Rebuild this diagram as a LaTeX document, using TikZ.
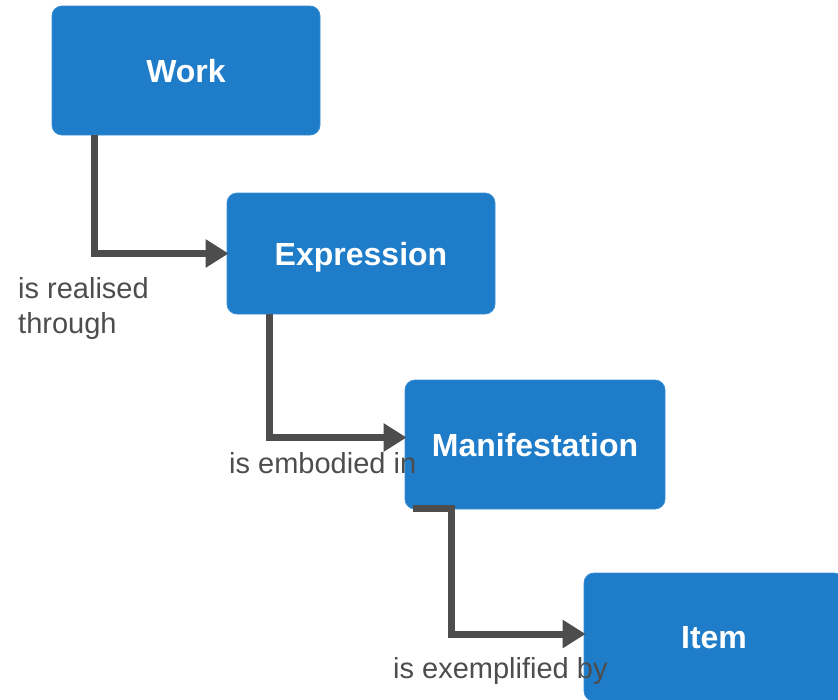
\documentclass[tikz,border=0pt]{standalone}
\usepackage{fontspec}
\setmainfont{Liberation Sans}
\usetikzlibrary{arrows.meta}
\definecolor{boxblue}{HTML}{1E7CC8}
\definecolor{boxedge}{HTML}{3A8DD4}
\definecolor{linegray}{HTML}{4D4D4D}
\begin{document}
\begin{tikzpicture}[x=1pt,y=-1pt,
  entity/.style={rectangle, rounded corners=10pt, fill=boxblue, draw=boxedge, line width=0.8pt,
    inner sep=0pt, text=white, font=\fontsize{32}{36}\selectfont\bfseries,
    text height=23pt, text depth=0pt},
  rel/.style={draw=linegray, line width=7pt, -{Triangle[length=23pt,width=27pt]}, shorten >=-2pt},
  lbl/.style={inner sep=0pt, text=linegray, font=\fontsize{29}{35}\selectfont, align=left}
]
\useasboundingbox (0,0) rectangle (838,699);
\node[entity, minimum width=268pt, minimum height=129pt] (work) at (186,70.5) {Work};
\node[entity, minimum width=268pt, minimum height=121pt] (expr) at (361,253.5) {Expression};
\node[entity, minimum width=260pt, minimum height=129pt] (mani) at (535,444.5) {Manifestation};
\node[entity, minimum width=260pt, minimum height=128pt] (item) at (714,637) {Item};

\draw[rel] ([xshift=43pt]work.south west) |- (expr.west);
\draw[rel] ([xshift=43pt]expr.south west) |- ([yshift=7pt]mani.west);
\draw[rel] ([xshift=8pt,yshift=1pt]mani.south west) -- ++(39,0) |- ([yshift=3pt]item.west);

\node[lbl, anchor=base west] (l1) at (18,298) {is realised};
\node[lbl, anchor=base west] (l1b) at (18,333) {through};
\node[lbl, anchor=base west] (l2) at (229,473) {is embodied in};
\node[lbl, anchor=base west] (l3) at (393,678) {is exemplified by};
\end{tikzpicture}
\end{document}
